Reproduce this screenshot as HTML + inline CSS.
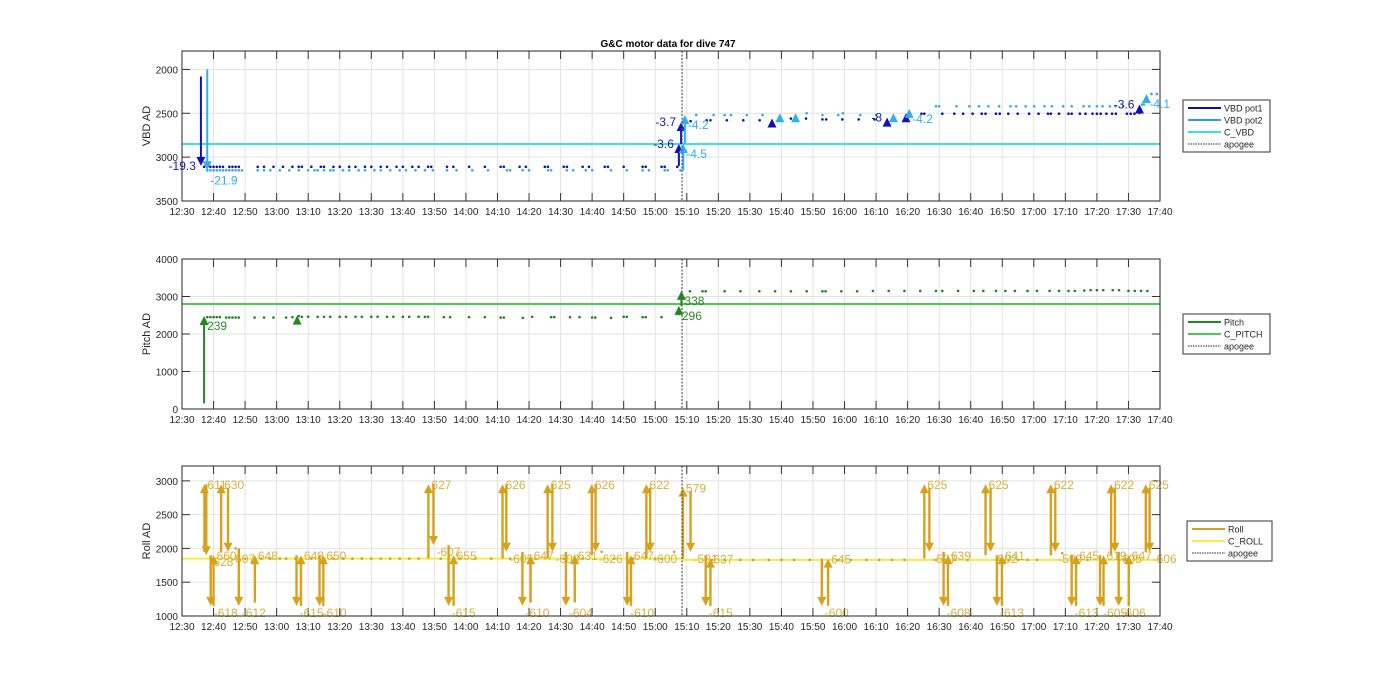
<!DOCTYPE html>
<html><head><meta charset="utf-8"><style>
body{margin:0;background:#fff;}
svg{font-family:"Liberation Sans",Arial,sans-serif;}
</style></head><body>
<svg id="c" width="1400" height="693" viewBox="0 0 1400 693" xmlns="http://www.w3.org/2000/svg">
<rect width="1400" height="693" fill="#fff"/>
<text x="668" y="47" text-anchor="middle" font-size="10" font-weight="bold">G&amp;C motor data for dive 747</text>
</svg>
<script>
// ---- data (time in minutes after 12:30) ----
const tickMinutes=[0,10,20,30,40,50,60,70,80,90,100,110,120,130,140,150,160,170,180,190,200,210,220,230,240,250,260,270,280,290,300,310];
const tickLabels=["12:30","12:40","12:50","13:00","13:10","13:20","13:30","13:40","13:50","14:00","14:10","14:20","14:30","14:40","14:50","15:00","15:10","15:20","15:30","15:40","15:50","16:00","16:10","16:20","16:30","16:40","16:50","17:00","17:10","17:20","17:30","17:40"];
const apogeeT=158.5;
const vbdTicks=[2000,2500,3000,3500];
const pitchTicks=[0,1000,2000,3000,4000];
const rollTicks=[1000,1500,2000,2500,3000];
const cVBD=2850, cPitch=2800, cRollPre=1850, cRollPost=1830;
const vbd1T=[7,8,9,10,11,12,13,15,16,17,18,24,26,29,32,35,37,38,41,44,45,48,50,53,55,58,60,63,65,68,70,73,75,78,79,84,86,91,96,101,102,107,109,115,116,121,122,127,129,134,135,140,146,147,152,153,157,161.2,166.3,167.5,172.7,177.9,183.1,193,197.8,203,204.2,209.3,214.5,219.5,234.4,235.3,241,244.8,247.6,250.6,253.5,254.7,258,259.2,261.9,264.9,268.5,271.5,274.5,275.4,278,281,282,284.6,286.4,288.6,290,291.2,293,294.8,296,299.5,300.7,301.9,305.3];
const vbd1V=[3110,3110,3110,3110,3110,3110,3110,3110,3110,3110,3110,3110,3110,3110,3110,3110,3110,3110,3110,3110,3110,3110,3110,3110,3110,3110,3110,3110,3110,3110,3110,3110,3110,3110,3110,3110,3110,3110,3110,3110,3110,3110,3110,3110,3110,3110,3110,3110,3110,3110,3110,3110,3110,3110,3110,3110,3110,2590,2580,2580,2580,2580,2580,2560,2560,2570,2570,2570,2570,2570,2505,2505,2505,2505,2505,2505,2505,2505,2505,2505,2505,2505,2505,2505,2505,2505,2505,2505,2505,2505,2505,2505,2505,2505,2505,2505,2505,2505,2505,2505,2350];
const vbd2T=[8,9,10,11,12,13,14,15,16,17,18,19,24,26,28,31,34,37,40,42,43,45,47,48,51,53,56,58,61,63,66,69,71,74,77,79.5,84,87,92,97,103,104,108,110,116,117,122,124,128,130,136,141,146,148,153,154,158,163,168.5,172,174,179,184,198,203,208,209.5,215,220,239,240,245.5,249.6,252.6,255.6,259,262.6,264.4,267.4,270.1,273.4,275.7,279.3,282,285.8,287.6,290,291.8,294.1,295.9,298.3,304.3,304.9,307.3,309];
const vbd2V=[3150,3150,3150,3150,3150,3150,3150,3150,3150,3150,3150,3150,3150,3150,3150,3150,3150,3150,3150,3150,3150,3150,3150,3150,3150,3150,3150,3150,3150,3150,3150,3150,3150,3150,3150,3150,3150,3150,3150,3150,3150,3150,3150,3150,3150,3150,3150,3150,3150,3150,3150,3150,3150,3150,3150,3150,3150,2520,2520,2520,2520,2520,2520,2500,2520,2520,2500,2520,2520,2420,2420,2420,2420,2420,2420,2420,2420,2420,2420,2420,2420,2420,2420,2420,2420,2420,2420,2420,2420,2420,2420,2400,2400,2280,2280];
const vbd1MoveT=[6,157.5,158.2,187,223.5,229.5,303.5];
const vbd1MoveFrom=[2080,3100,2850,2620,2610,2560,2510];
const vbd1MoveTo=[3100,2850,2600,2560,2550,2500,2400];
const vbd1MoveLabel=["-19.3","-3.6","-3.7","","-8","","-3.6"];
const vbd2MoveT=[8,158.9,159.4,189.5,194.5,225.5,230.5,305.7];
const vbd2MoveFrom=[2000,3150,2850,2550,2530,2540,2500,2330];
const vbd2MoveTo=[3150,2850,2520,2500,2500,2500,2450,2280];
const vbd2MoveLabel=["-21.9","-4.5","-4.2","","","","-4.2","-4.1"];
const pitchT=[8,9,10,11,12,14,15,16,17,18,23,26,29,33,35,37,38,40,43,45,47,50,52,55,57,60,62,65,67,70,72,75,77,78,83,85,91,96,101,102,108,111,117,118,123,126,130,131,136,140,141,146,147,152,161,165,166,172,177,183,188,193,198,203,204,209,214,219,224,229,234,239,241,246,251,254,258,261,264,268,271,275,278,281,283,286,288,290,292,295,297,300,302,304,306];
const pitchV=[2450,2450,2450,2450,2450,2440,2440,2440,2440,2440,2440,2440,2440,2440,2450,2480,2460,2460,2460,2460,2460,2460,2460,2460,2460,2460,2460,2460,2460,2460,2460,2460,2460,2460,2450,2450,2450,2450,2440,2440,2430,2460,2450,2450,2450,2450,2440,2440,2430,2460,2460,2450,2450,2450,3140,3140,3140,3140,3140,3140,3140,3140,3140,3140,3140,3140,3140,3150,3150,3150,3150,3150,3150,3150,3150,3150,3150,3150,3150,3150,3150,3150,3150,3150,3150,3160,3170,3170,3170,3170,3170,3150,3150,3150,3150];
const pitchMoveT=[7,36.5,157.5,158.3];
const pitchMoveFrom=[150,2430,2500,2750];
const pitchMoveTo=[2480,2490,2750,3150];
const pitchMoveLabel=["239","","296","338"];
const rollT=[17,20,25,28,31,33,36,41,45,48,51,54,57,60,63,66,69,72,75,82,88,93,98,104,112,121,127,133,137,143,148,150,152,156,168,172,177,181,186,190,194,199,208,212,217,221,225,229,239,245,249,262,265,268,271,279,287,299];
const rollV=[2000,1850,1850,1850,1850,1850,1850,1850,1850,1850,1850,1850,1850,1850,1850,1850,1850,1850,1850,1850,1850,1850,1850,1850,1850,1850,1850,1950,1850,1850,2000,1850,1850,1950,1830,1830,1830,1830,1830,1830,1830,1830,1830,1830,1830,1830,1830,1830,1830,1830,1830,1830,1830,1830,1830,1930,1830,1830];
const rollMoveT=[7.1,7.7,9.1,10,12.4,14.6,18,23.1,36.3,37.7,43.6,44.8,78.1,79.7,84.5,86.1,101.6,102.8,107.9,110.5,115.9,117.4,121.7,124.5,129.9,131.1,141.1,142.3,147.2,148.4,158.8,161.2,166,167.5,202.8,204.8,235.3,236.9,241.4,242.8,254.7,256.3,258.3,259.9,275.4,276.8,282,283.4,291,292.1,294.5,295.7,296.9,300.1,305.5,306.7];
const rollMoveFrom=[1950,2950,1900,1150,1950,2900,2000,1200,1900,1150,1900,1150,1850,2950,2050,1150,1850,2950,1950,1200,1850,2950,1950,1200,1900,2950,1950,1150,1850,2900,1850,2850,1900,1150,1850,1150,1850,2900,1950,1150,1900,2900,1900,1150,1900,2900,1900,1150,1900,1150,1900,2900,1950,1150,1950,2900];
const rollMoveTo=[2950,1900,1150,1900,2950,1950,1150,1900,1150,1900,1150,1900,2950,2050,1150,1900,2950,1950,1150,1900,2950,1950,1150,1900,2950,1950,1150,1900,2950,1950,2900,1950,1150,1850,1150,1850,2950,1950,1150,1900,2950,1950,1150,1900,2950,1950,1150,1900,1150,1900,2950,1950,1150,1900,2950,1950];
const rollMoveLabel=["611","-628","-618","660","630","-607","-612","648","-615","648","-610","650","627","-607","-615","655","626","-605","-610","647","625","-609","-604","631","626","-626","-610","647","622","-600","579","-581","-615","637","-600","645","625","-597","-608","639","625","-602","-613","641","622","-599","-613","645","-605","619","622","-605","-606","647","625","-606"];

// ---- drawing ----
const NS="http://www.w3.org/2000/svg";
const svg=document.getElementById('c');
const X0=182,X1=1160,TMAX=310;
function xs(t){return X0+(X1-X0)*t/TMAX;}
function mk(tag,attrs,parent){const e=document.createElementNS(NS,tag);for(const k in attrs)e.setAttribute(k,attrs[k]);(parent||svg).appendChild(e);return e;}

function panel(name,top,bot,ymin,ymax,rev,yticks,ylabel){
  const g=mk('g',{});
  
  
  const ys=v=>{const f=(v-ymin)/(ymax-ymin);return rev?top+f*(bot-top):bot-f*(bot-top);};
  mk('rect',{x:X0,y:top,width:X1-X0,height:bot-top,fill:'#fff'},g);
  tickMinutes.forEach((t,i)=>{
    const x=xs(t);
    const gl=mk('line',{x1:x,x2:x,y1:top,y2:bot,stroke:'#e3e3e3','stroke-width':1},g);
    
    
    mk('line',{x1:x,x2:x,y1:bot,y2:bot-8,stroke:'#333'},g);
    mk('line',{x1:x,x2:x,y1:top,y2:top+8,stroke:'#333'},g);
    const tl=mk('text',{x:x,y:bot+14,'text-anchor':'middle','font-size':10,fill:'#262626'},g);
    tl.textContent=tickLabels[i];
    
    
  });
  yticks.forEach(v=>{
    const y=ys(v);
    const gl=mk('line',{x1:X0,x2:X1,y1:y,y2:y,stroke:'#e3e3e3'},g);
    
    
    mk('line',{x1:X0,x2:X0+8,y1:y,y2:y,stroke:'#333'},g);
    mk('line',{x1:X1,x2:X1-8,y1:y,y2:y,stroke:'#333'},g);
    const tl=mk('text',{x:X0-4,y:y+4,'text-anchor':'end','font-size':10,fill:'#262626'},g);
    tl.textContent=v;
    
    
  });
  const yl=mk('text',{x:0,y:0,'text-anchor':'middle','font-size':11,fill:'#262626',transform:`translate(150,${(top+bot)/2}) rotate(-90)`},g);
  yl.textContent=ylabel;
  
  
  const dataG=mk('g',{},g);
  const ap=mk('line',{x1:xs(apogeeT),x2:xs(apogeeT),y1:top,y2:bot,stroke:'#555','stroke-dasharray':'2,1.5','stroke-width':1.2},g);
  
  
  mk('rect',{x:X0,y:top,width:X1-X0,height:bot-top,fill:'none',stroke:'#262626'},g);
  return {ys,g:dataG};
}
function hline(p,v,t0,t1,color,name,w){
  const l=mk('line',{x1:xs(t0),x2:xs(t1),y1:p.ys(v),y2:p.ys(v),stroke:color,'stroke-width':w||1.5},p.g);
  
  
}
function dots(p,T,V,color,name){
  T.forEach((t,i)=>{
    const c=mk('circle',{cx:xs(t),cy:p.ys(V[i]),r:1.3,fill:color},p.g);
    
    
  });
}
function moves(p,T,F,To,L,color,name,w,labelSide,lcolor,upOff,downOff){
  T.forEach((t,i)=>{
    const x=xs(t),y0=p.ys(F[i]),y1=p.ys(To[i]);
    const up=y1<y0;
    const l=mk('line',{x1:x,x2:x,y1:y0,y2:up?y1+7:y1-7,stroke:color,'stroke-width':w},p.g);
    
    
    const hy=up?y1+9:y1-9;
    const h=mk('polygon',{points:`${x-4.5},${hy} ${x+4.5},${hy} ${x},${y1}`,fill:color},p.g);
    
    
    if(L[i]){
      const side=labelSide==='left';
      const tx=mk('text',{x:side?x-5:x+3,y:side?y1+4:y1+(up?upOff:downOff),'text-anchor':side?'end':'start','font-size':12,fill:lcolor||color},p.g);
      tx.textContent=L[i];
      
      
    }
  });
}
function legend(x,y,w,entries){
  const g=mk('g',{});
  
  
  const h=entries.length*12+4;
  mk('rect',{x:x,y:y,width:w,height:h,fill:'#fff',stroke:'#333'},g);
  entries.forEach((e,i)=>{
    const yy=y+8+i*12;
    const ln=mk('line',{x1:x+5,x2:x+38,y1:yy,y2:yy,stroke:e[1],'stroke-width':e[2]?1.2:2,'stroke-dasharray':e[2]?'1.5,1':'none'},g);
    
    
    const t=mk('text',{x:x+41,y:yy+3.5,'font-size':9,fill:'#262626'},g);
    t.textContent=e[0];
    
    
  });
}
// Panel 1: VBD
const p1=panel('vbd',51,201,1790,3500,true,vbdTicks,'VBD AD');
hline(p1,cVBD,0,TMAX,'#3ee0e0','c-vbd-line',2);
dots(p1,vbd2T,vbd2V,'#2fa8e8','vbd-pot2-point');
dots(p1,vbd1T,vbd1V,'#1010a8','vbd-pot1-point');
moves(p1,vbd1MoveT,vbd1MoveFrom,vbd1MoveTo,vbd1MoveLabel,'#1010c0','vbd-pot1-move',2,'left','#1a1aa0',0,0);
moves(p1,vbd2MoveT,vbd2MoveFrom,vbd2MoveTo,vbd2MoveLabel,'#2fb0ee','vbd-pot2-move',2,'right','#2fb0ee',14,14);
legend(1183,100,87,[['VBD pot1','#10109a'],['VBD pot2','#2aa0e0'],['C_VBD','#40e0e0'],['apogee','#555',true]]);
// Panel 2: Pitch
const p2=panel('pitch',259,409,0,4000,false,pitchTicks,'Pitch AD');
hline(p2,cPitch,0,TMAX,'#4ccc4c','c-pitch-line',2);
dots(p2,pitchT,pitchV,'#1f7f1f','pitch-point');
moves(p2,pitchMoveT,pitchMoveFrom,pitchMoveTo,pitchMoveLabel,'#1f8a1f','pitch-move',2,'right','#2a8a2a',14,14);
legend(1183,314,87,[['Pitch','#1f8a1f'],['C_PITCH','#4ccc4c'],['apogee','#555',true]]);
// Panel 3: Roll
const p3=panel('roll',466,616,1000,3220,false,rollTicks,'Roll AD');
hline(p3,cRollPre,0,apogeeT,'#f4ee40','c-roll-line',2);
hline(p3,cRollPost,apogeeT,TMAX,'#f4ee40','c-roll-line',2);
dots(p3,rollT,rollV,'#c8a040','roll-point');
moves(p3,rollMoveT,rollMoveFrom,rollMoveTo,rollMoveLabel,'#d6a21e','roll-move',2.4,'right','#d8b040',5,11);
legend(1187,521,85,[['Roll','#d6a21e'],['C_ROLL','#f4ee40'],['apogee','#555',true]]);
</script>
</body></html>
